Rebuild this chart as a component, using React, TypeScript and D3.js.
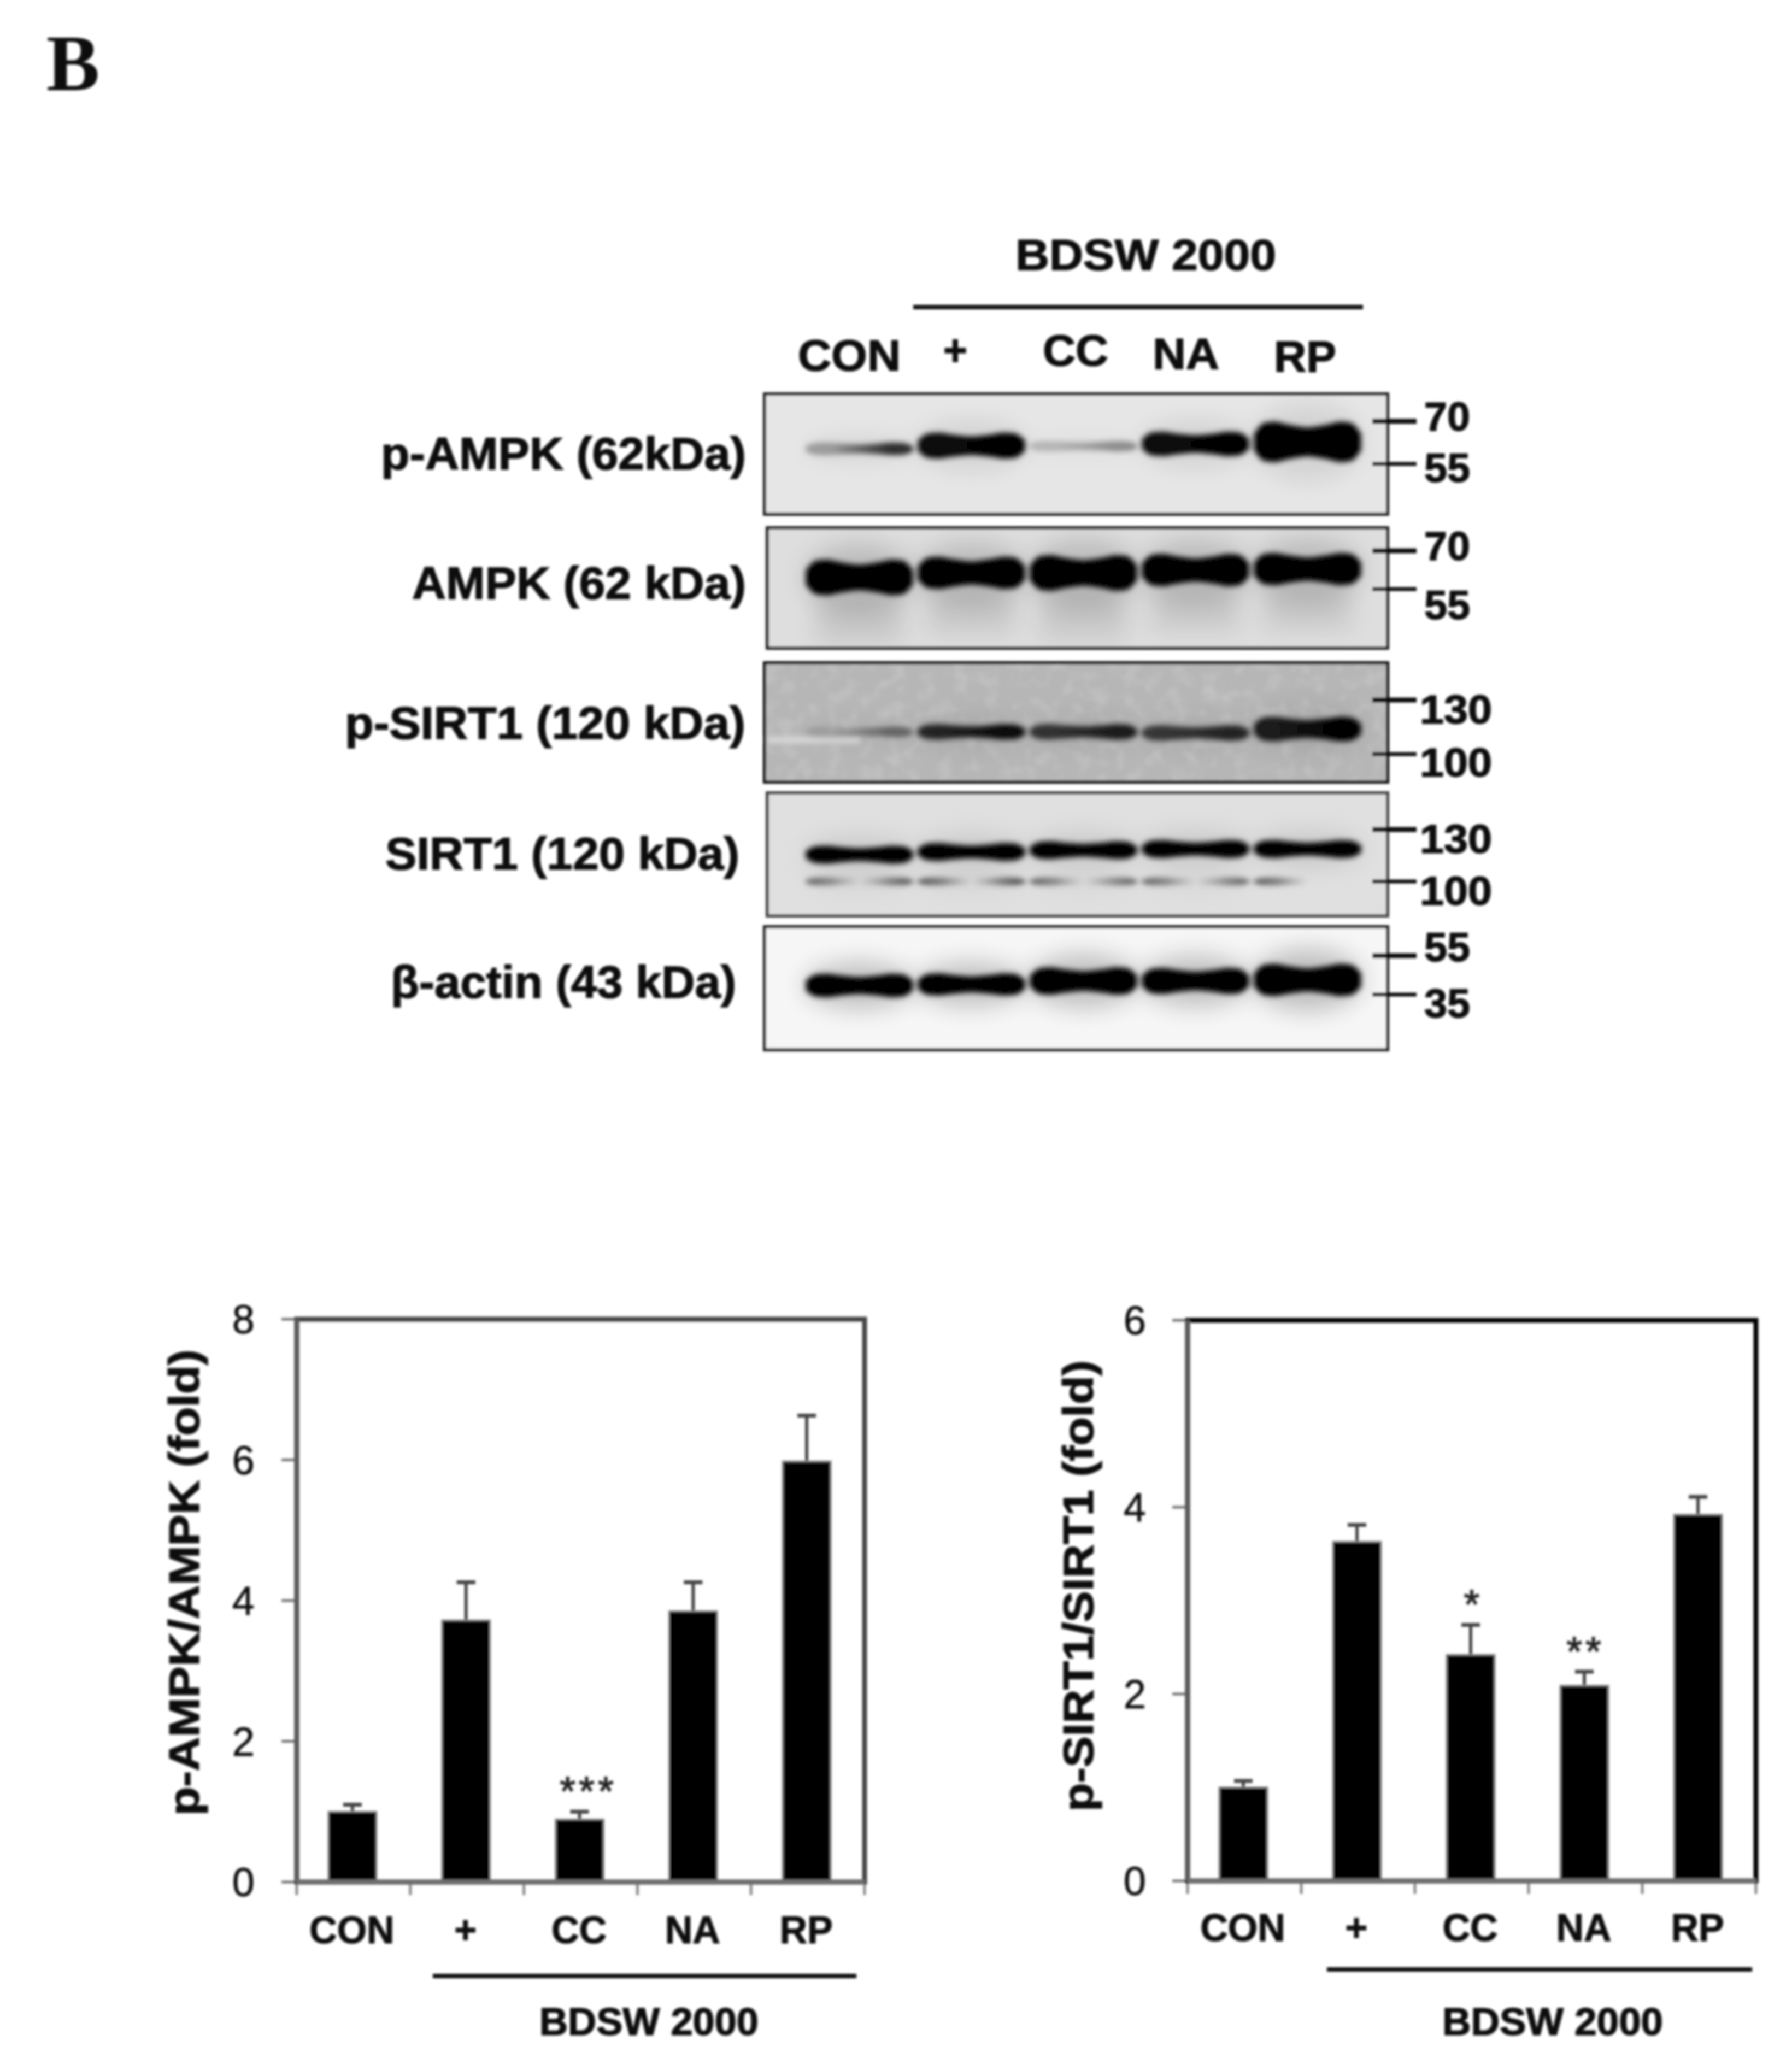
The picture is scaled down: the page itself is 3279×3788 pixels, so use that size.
import * as d3 from "d3";

const WIDTH = 3279;
const HEIGHT = 3788;
const FONT = '"Liberation Sans", Arial, sans-serif';

const lanes = ["CON", "+", "CC", "NA", "RP"];

// bar chart values
const ampkMeans = [1.0, 3.72, 0.89, 3.85, 5.98];
const ampkErrors = [0.1, 0.54, 0.11, 0.41, 0.65];
const ampkStars = ["", "", "***", "", ""];
const ampkTicks = [0, 2, 4, 6, 8];

const sirtMeans = [1.0, 3.63, 2.42, 2.09, 3.92];
const sirtErrors = [0.07, 0.18, 0.32, 0.15, 0.19];
const sirtStars = ["", "", "*", "**", ""];
const sirtTicks = [0, 2, 4, 6];

// blot bands: apparent mass (kDa), density at left/right edge of the band, amount of signal
const pAmpkMass = [59.9, 61.0, 60.8, 61.6, 62.3];
const pAmpkLeft = [0.3, 0.95, 0.2, 0.95, 1];
const pAmpkRight = [0.8, 1, 0.38, 1, 1];
const pAmpkLoad = [0.27, 0.55, 0.22, 0.52, 0.85];

const ampkMass = [59.2, 60.9, 60.9, 62.0, 62.4];
const ampkLeft = [1, 1, 1, 1, 1];
const ampkRight = [1, 1, 1, 1, 1];
const ampkLoad = [0.75, 0.68, 0.75, 0.68, 0.68];

const pSirtMass = [111.4, 111.4, 111.4, 110.8, 112.9];
const pSirtLeft = [0.12, 0.8, 0.72, 0.7, 0.85];
const pSirtRight = [0.45, 0.95, 0.85, 0.8, 1];
const pSirtLoad = [0.22, 0.33, 0.33, 0.33, 0.52];

const sirtMass = [114.5, 116.1, 117.1, 117.8, 117.8];
const sirtLeft = [1, 1, 1, 1, 1];
const sirtRight = [1, 1, 1, 1, 1];
const sirtLoad = [0.38, 0.38, 0.38, 0.38, 0.38];

// the lower SIRT1 doublet, only visible at the band edges
const sirtLowerMass = [100, 100, 100, 100, 100];
const sirtLowerLeft = [0.5, 0.55, 0.5, 0.5, 0.55];
const sirtLowerRight = [0.55, 0.6, 0.5, 0.5, 0];
const sirtLowerLoad = [0.17, 0.17, 0.17, 0.17, 0.17];

const actinMass = [38.9, 39.4, 41.0, 41.0, 41.5];
const actinLeft = [1, 1, 1, 1, 1];
const actinRight = [1, 1, 1, 1, 1];
const actinLoad = [0.5, 0.47, 0.58, 0.55, 0.68];

// band outline across a lane: heavier at the edges, pinched in the middle
const bandProfile = [0.4, 0.95, 1, 0.88, 0.78, 0.72, 0.78, 0.88, 1, 0.95, 0.4];

const blotLabels = [
  "p-AMPK (62kDa)",
  "AMPK (62 kDa)",
  "p-SIRT1 (120 kDa)",
  "SIRT1 (120 kDa)",
  "β-actin (43 kDa)",
];
const ampkMarkers = [70, 55];
const sirtMarkers = [130, 100];
const actinMarkers = [55, 35];

type BandSet = {
  mass: number[];
  left: number[];
  right: number[];
  load: number[];
  middle: number;
};

const upperBands = (mass: number[], left: number[], right: number[], load: number[]): BandSet => ({
  mass,
  left,
  right,
  load,
  middle: 1,
});

const blots = [
  {
    label: blotLabels[0],
    markers: ampkMarkers,
    bands: [upperBands(pAmpkMass, pAmpkLeft, pAmpkRight, pAmpkLoad)],
    box: [1399, 2539, 721, 941],
    markerY: [771, 849],
    labelX: [697, 1365, 859],
    markerOffset: [17, 33],
    fill: "#e6e6e6",
    border: "#222",
    halo: 0.08,
    tail: 0,
  },
  {
    label: blotLabels[1],
    markers: ampkMarkers,
    bands: [upperBands(ampkMass, ampkLeft, ampkRight, ampkLoad)],
    box: [1404, 2539, 966, 1186],
    markerY: [1008, 1078],
    labelX: [754, 1365, 1096],
    markerOffset: [17, 55],
    fill: "#dedede",
    border: "#222",
    halo: 0.15,
    tail: 0.1,
  },
  {
    label: blotLabels[2],
    markers: sirtMarkers,
    bands: [upperBands(pSirtMass, pSirtLeft, pSirtRight, pSirtLoad)],
    box: [1399, 2539, 1213, 1431],
    markerY: [1281, 1380],
    labelX: [631, 1364, 1352],
    markerOffset: [43, 41],
    fill: "#b6b6b6",
    border: "#111",
    halo: 0.08,
    tail: 0,
  },
  {
    label: blotLabels[3],
    markers: sirtMarkers,
    bands: [
      upperBands(sirtMass, sirtLeft, sirtRight, sirtLoad),
      { mass: sirtLowerMass, left: sirtLowerLeft, right: sirtLowerRight, load: sirtLowerLoad, middle: 0 },
    ],
    box: [1404, 2539, 1451, 1676],
    markerY: [1518, 1613],
    labelX: [705, 1353, 1591],
    markerOffset: [43, 43],
    fill: "#e0e0e0",
    border: "#444",
    halo: 0.1,
    tail: 0,
  },
  {
    label: blotLabels[4],
    markers: actinMarkers,
    bands: [upperBands(actinMass, actinLeft, actinRight, actinLoad)],
    box: [1399, 2539, 1696, 1921],
    markerY: [1749, 1820],
    labelX: [715, 1347, 1826],
    markerOffset: [10, 42],
    fill: "#f6f6f6",
    border: "#222",
    halo: 0.22,
    tail: 0,
  },
];

const laneScale = d3.scaleBand<string>().domain(lanes).range([1470, 2495]);
const loadScale = d3.scaleLinear().domain([0, 1]).range([0, 88]);

// text stretched to a measured width, the source figure was resampled unevenly
function FitText({
  x,
  y,
  length,
  size,
  children,
}: {
  x: number;
  y: number;
  length: number;
  size: number;
  children: string;
}) {
  return (
    <text
      x={x}
      y={y}
      textLength={length}
      lengthAdjust="spacingAndGlyphs"
      fontFamily={FONT}
      fontSize={size}
      fontWeight={700}
      fill="#0c0c0c"
      stroke="#0c0c0c"
      strokeWidth={1.5}
    >
      {children}
    </text>
  );
}

function Blot({ blot, index }: { blot: (typeof blots)[number]; index: number }) {
  const [x0, x1, y0, y1] = blot.box;
  const massScale = d3.scaleLog().domain(blot.markers).range(blot.markerY);
  const step = laneScale.bandwidth();
  const clipId = `blot-clip-${index}`;

  const shapes = blot.bands.flatMap((set, s) =>
    lanes.map((lane, i) => {
      const cx = (laneScale(lane) ?? 0) + step / 2;
      const half = step * 0.48;
      const cy = massScale(set.mass[i]);
      const thick = loadScale(set.load[i]);
      const along = d3
        .scaleLinear()
        .domain([0, bandProfile.length - 1])
        .range([cx - half, cx + half]);
      const outline = d3
        .area<number>()
        .x((_, k) => along(k))
        .y0((p) => cy - (thick / 2) * p)
        .y1((p) => cy + (thick / 2) * p)
        .curve(d3.curveMonotoneX);
      const id = `band-${index}-${s}-${i}`;
      const mid = ((set.left[i] + set.right[i]) / 2) * set.middle;
      return { id, d: outline(bandProfile) ?? "", set, i, cx, cy, half, thick, mid };
    })
  );

  return (
    <g>
      <defs>
        <clipPath id={clipId}>
          <rect x={x0} y={y0} width={x1 - x0} height={y1 - y0} />
        </clipPath>
        {shapes.map((b) => (
          <linearGradient key={b.id} id={b.id}>
            <stop offset="8%" stopColor="#000" stopOpacity={b.set.left[b.i]} />
            <stop offset="25%" stopColor="#000" stopOpacity={b.set.middle ? b.set.left[b.i] : b.set.left[b.i] * 0.7} />
            <stop offset="50%" stopColor="#000" stopOpacity={b.mid} />
            <stop offset="78%" stopColor="#000" stopOpacity={b.set.middle ? b.set.right[b.i] : b.set.right[b.i] * 0.7} />
            <stop offset="92%" stopColor="#000" stopOpacity={b.set.right[b.i]} />
          </linearGradient>
        ))}
      </defs>
      <rect x={x0} y={y0} width={x1 - x0} height={y1 - y0} fill={blot.fill} />
      {index === 2 && (
        <>
          <rect x={x0} y={y0} width={x1 - x0} height={y1 - y0} filter="url(#speckle)" opacity={0.35} />
          {/* pale streak left of the first lane */}
          <rect x={x0 + 5} y={y0 + 135} width={170} height={12} fill="#d8d8d8" filter="url(#soft)" />
        </>
      )}
      <g clipPath={`url(#${clipId})`}>
        <g filter="url(#haze)" opacity={blot.halo}>
          {shapes.map((b) => (
            <ellipse key={b.id} cx={b.cx} cy={b.cy} rx={b.half * 1.02} ry={b.thick * 0.95} fill="#000" opacity={b.set.right[b.i]} />
          ))}
        </g>
        {blot.tail > 0 && (
          <g filter="url(#haze)" opacity={blot.tail}>
            {shapes.map((b) => (
              <rect key={b.id} x={b.cx - b.half * 0.8} y={b.cy + b.thick * 0.5} width={b.half * 1.6} height={b.thick * 1.3} fill="#000" />
            ))}
          </g>
        )}
        <g filter="url(#soft)">
          {shapes.map((b) => (
            <path key={b.id} d={b.d} fill={`url(#${b.id})`} />
          ))}
        </g>
      </g>
      <rect x={x0} y={y0} width={x1 - x0} height={y1 - y0} fill="none" stroke={blot.border} strokeWidth={6} />

      {blot.markers.map((m, i) => {
        const y = massScale(m);
        const wide = m >= 100;
        return (
          <g key={m}>
            <line x1={2511} x2={2592} y1={y} y2={y} stroke="#111" strokeWidth={i === 0 ? 9 : 7} />
            <FitText x={wide ? 2598 : 2606} y={y + blot.markerOffset[i]} length={wide ? 132 : 84} size={74}>
              {String(m)}
            </FitText>
          </g>
        );
      })}

      <FitText x={blot.labelX[0]} y={blot.labelX[2]} length={blot.labelX[1] - blot.labelX[0]} size={84}>
        {blot.label}
      </FitText>
    </g>
  );
}

function BarChart({
  means,
  errors,
  stars,
  ticks,
  title,
  left,
  right,
  top,
  bottom,
  titleX,
  titleY,
  titleLength,
  tickRight,
  labelY,
  lineX,
  lineY,
  groupX,
  frameTop,
}: {
  means: number[];
  errors: number[];
  stars: string[];
  ticks: number[];
  title: string;
  left: number;
  right: number;
  top: number;
  bottom: number;
  titleX: number;
  titleY: number;
  titleLength: number;
  tickRight: number;
  labelY: number;
  lineX: [number, number];
  lineY: number;
  groupX: [number, number];
  frameTop: string;
}) {
  const x = d3.scaleBand<string>().domain(lanes).range([left, right]);
  const y = d3.scaleLinear().domain([0, ticks[ticks.length - 1]]).range([bottom, top]);
  const step = x.bandwidth();
  const barW = 88;
  const capW = 34;
  const boundaries = d3.range(lanes.length + 1).map((i) => left + i * step);

  return (
    <g>
      {ticks.map((t) => (
        <g key={t}>
          <line x1={left - 28} x2={left} y1={y(t)} y2={y(t)} stroke="#777" strokeWidth={5} />
          <text x={tickRight} y={y(t) + 26} textAnchor="end" fontFamily={FONT} fontSize={74} fill="#111" stroke="#111" strokeWidth={0.8}>
            {t}
          </text>
        </g>
      ))}
      {boundaries.map((b) => (
        <line key={b} x1={b} x2={b} y1={bottom} y2={bottom + 24} stroke="#888" strokeWidth={5} />
      ))}

      {lanes.map((lane, i) => {
        const cx = (x(lane) ?? 0) + step / 2;
        return (
          <g key={lane}>
            <line x1={cx - 2} x2={cx - 2} y1={y(means[i])} y2={y(means[i] + errors[i])} stroke="#444" strokeWidth={6} />
            <line
              x1={cx - 2 - capW / 2}
              x2={cx - 2 + capW / 2}
              y1={y(means[i] + errors[i])}
              y2={y(means[i] + errors[i])}
              stroke="#444"
              strokeWidth={7}
            />
            <rect
              x={cx - 2 - barW / 2}
              y={y(means[i])}
              width={barW}
              height={bottom - y(means[i])}
              fill="#000"
              stroke="#8a8a8a"
              strokeWidth={3}
            />
            {stars[i] && (
              <text
                x={cx + (stars[i].length === 3 ? 14 : 0)}
                y={y(means[i] + errors[i]) - 12}
                textAnchor="middle"
                fontFamily={FONT}
                fontSize={74}
                fill="#222"
                stroke="#222"
                strokeWidth={1.5}
                letterSpacing={stars[i].length > 1 ? 6 : 0}
              >
                {stars[i]}
              </text>
            )}
            <text
              x={cx - 3}
              y={labelY}
              textAnchor="middle"
              fontFamily={FONT}
              fontSize={70}
              fontWeight={700}
              fill="#0c0c0c"
              stroke="#0c0c0c"
              strokeWidth={1.2}
            >
              {lane}
            </text>
          </g>
        );
      })}

      <rect x={left} y={top} width={right - left} height={bottom - top} fill="none" stroke={frameTop} strokeWidth={9} />
      <line x1={left} x2={left} y1={top} y2={bottom} stroke="#5c5c5c" strokeWidth={9} />
      <line x1={left} x2={right} y1={bottom} y2={bottom} stroke="#6e6e6e" strokeWidth={9} />

      <line x1={lineX[0]} x2={lineX[1]} y1={lineY} y2={lineY} stroke="#111" strokeWidth={8} />
      <FitText x={groupX[0]} y={3724} length={groupX[1] - groupX[0]} size={70}>
        BDSW 2000
      </FitText>

      <g transform={`translate(${titleX},${titleY}) rotate(-90)`}>
        <text
          x={0}
          y={0}
          textAnchor="middle"
          textLength={titleLength}
          lengthAdjust="spacingAndGlyphs"
          fontFamily={FONT}
          fontSize={78}
          fontWeight={700}
          fill="#0c0c0c"
          stroke="#0c0c0c"
          strokeWidth={1.5}
        >
          {title}
        </text>
      </g>
    </g>
  );
}

export default function App() {
  return (
    <svg
      width={WIDTH}
      height={HEIGHT}
      viewBox={`0 0 ${WIDTH} ${HEIGHT}`}
      style={{ position: "absolute", left: 0, top: 0, background: "#fff" }}
    >
      <defs>
        <filter id="soft" x="-10%" y="-60%" width="120%" height="220%">
          <feGaussianBlur stdDeviation={5} />
        </filter>
        <filter id="haze" x="-10%" y="-80%" width="120%" height="260%">
          <feGaussianBlur stdDeviation={22} />
        </filter>
        <filter id="speckle" x="0" y="0" width="100%" height="100%">
          <feTurbulence type="fractalNoise" baseFrequency="0.035" numOctaves={2} seed={4} />
          <feColorMatrix values="0 0 0 0 0.85  0 0 0 0 0.85  0 0 0 0 0.85  1.6 0 0 0 -0.75" />
        </filter>
        {/* the source is an upscaled raster, everything sits slightly out of focus */}
        <filter id="resample" x="0" y="0" width={WIDTH} height={HEIGHT} filterUnits="userSpaceOnUse">
          <feGaussianBlur stdDeviation={2.2} />
        </filter>
      </defs>

      <g filter="url(#resample)">
        <text x={85} y={165} fontFamily='"Liberation Serif", serif' fontSize={146} fontWeight={700} fill="#111">
          B
        </text>

        <FitText x={1858} y={494} length={477} size={80}>
          BDSW 2000
        </FitText>
        <line x1={1671} x2={2494} y1={562} y2={562} stroke="#111" strokeWidth={8} />

        <FitText x={1460} y={678} length={188} size={80}>
          CON
        </FitText>
        <FitText x={1726} y={668} length={44} size={80}>
          +
        </FitText>
        <FitText x={1908} y={669} length={120} size={80}>
          CC
        </FitText>
        <FitText x={2109} y={675} length={122} size={80}>
          NA
        </FitText>
        <FitText x={2331} y={680} length={114} size={80}>
          RP
        </FitText>

        {blots.map((b, i) => (
          <Blot key={b.label} blot={b} index={i} />
        ))}

        <BarChart
          means={ampkMeans}
          errors={ampkErrors}
          stars={ampkStars}
          ticks={ampkTicks}
          title="p-AMPK/AMPK (fold)"
          left={543}
          right={1582}
          top={2414}
          bottom={3444}
          titleX={364}
          titleY={2896}
          titleLength={853}
          tickRight={466}
          labelY={3556}
          lineX={[792, 1567]}
          lineY={3616}
          groupX={[987, 1388]}
          frameTop="#444"
        />
        <BarChart
          means={sirtMeans}
          errors={sirtErrors}
          stars={sirtStars}
          ticks={sirtTicks}
          title="p-SIRT1/SIRT1 (fold)"
          left={2173}
          right={3213}
          top={2416}
          bottom={3442}
          titleX={2000}
          titleY={2902}
          titleLength={826}
          tickRight={2097}
          labelY={3552}
          lineX={[2428, 3206]}
          lineY={3604}
          groupX={[2639, 3043]}
          frameTop="#000"
        />
      </g>
    </svg>
  );
}
